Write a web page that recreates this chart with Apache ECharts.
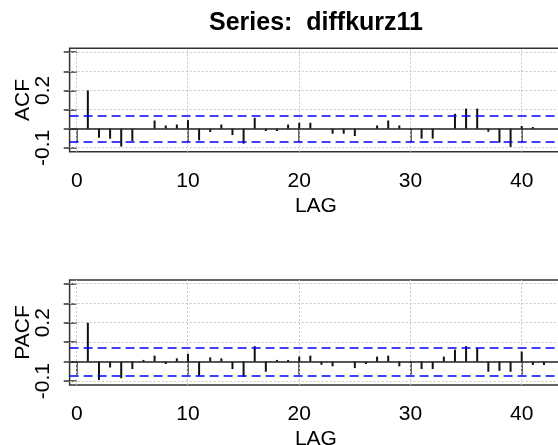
<!DOCTYPE html>
<html>
<head>
<meta charset="utf-8">
<script src="https://cdn.jsdelivr.net/npm/echarts@6/dist/echarts.min.js"></script>
<style>html,body{margin:0;padding:0;background:#fff}#c{width:558px;height:445px}</style>
</head>
<body>
<div id="c"></div>
<script>
var lags = [1,2,3,4,5,6,7,8,9,10,11,12,13,14,15,16,17,18,19,20,21,22,23,24,25,26,27,28,29,30,31,32,33,34,35,36,37,38,39,40,41,42];
var acfValues = [0.20,-0.047,-0.052,-0.093,-0.064,0.0,0.043,0.017,0.022,0.045,-0.061,-0.017,0.022,-0.033,-0.078,0.057,-0.012,-0.012,0.022,0.031,0.031,0.0,-0.026,-0.026,-0.038,0.0,0.017,0.043,0.017,-0.005,-0.052,-0.052,0.0,0.078,0.105,0.105,-0.016,-0.073,-0.095,0.014,0.009,0.0];
var pacfValues = [0.20,-0.094,-0.030,-0.085,-0.038,0.009,0.031,-0.012,0.017,0.040,-0.073,0.022,0.017,-0.038,-0.078,0.080,-0.052,0.009,0.009,0.026,0.031,-0.016,-0.024,0.0,-0.033,-0.012,0.026,0.031,-0.024,-0.007,-0.038,-0.038,0.026,0.062,0.080,0.071,-0.052,-0.047,-0.052,0.052,-0.017,-0.017];
var confBound = 0.065;
var xTicks = [0,10,20,30,40];
var xTickLabels = ['0','10','20','30','40'];
var yTicks = [-0.1,0,0.1,0.2,0.3,0.4];
var yTickLabels = [-0.1,0.2];
var titleText = 'Series:  diffkurz11';

var X_MIN = -0.64, X_MAX = 43.64, Y_MIN = -0.12, Y_MAX = 0.42;
var FONT = 'Liberation Sans, Arial, sans-serif';
var chart = echarts.init(document.getElementById('c'), null, {renderer:'canvas'});

function pairs(vals){ return lags.map(function(l,i){ return [l, vals[i]]; }); }
function snap(v){ return Math.round(v - 0.5) + 0.5; }

function xAx(idx){
  return {
    type:'value', gridIndex:idx, min:X_MIN, max:X_MAX,
    name:'LAG', nameLocation:'middle', nameGap:44, nameMoveOverlap:false,
    nameTextStyle:{fontFamily:FONT, fontSize:21, color:'#000'},
    axisLine:{show:false},
    axisTick:{show:true, length:13, customValues:xTicks, lineStyle:{color:'#333', width:1.5}},
    axisLabel:{customValues:xTicks, margin:19, fontFamily:FONT, fontSize:21, color:'#000',
      formatter:function(v){ var i = xTicks.indexOf(v); return i>=0 ? xTickLabels[i] : ''; }},
    splitLine:{show:false}
  };
}
function yAx(idx, name){
  return {
    type:'value', gridIndex:idx, min:Y_MIN, max:Y_MAX,
    name:name, nameLocation:'middle', nameRotate:90, nameGap:36, nameMoveOverlap:false,
    nameTextStyle:{fontFamily:FONT, fontSize:21, color:'#000'},
    axisLine:{show:false},
    axisTick:{show:true, length:13, customValues:yTicks, lineStyle:{color:'#333', width:1.5}},
    axisLabel:{customValues:yTickLabels, rotate:90, margin:16, fontFamily:FONT, fontSize:21, color:'#000',
      formatter:function(v){ return (Math.round(v*10)/10).toFixed(1); }},
    splitLine:{show:false}
  };
}
function seriesFor(idx, vals){
  return [
    {
      type:'custom', xAxisIndex:idx, yAxisIndex:idx, data:xTicks.map(function(v){return [v];}), z:1, silent:true,
      encode:{x:0}, clip:false,
      renderItem:function(params, api){
        var x = api.value(0);
        var p1 = api.coord([x, Y_MIN]), p2 = api.coord([x, Y_MAX]);
        var sx = snap(p1[0]);
        return {type:'line', shape:{x1:sx, y1:p1[1], x2:sx, y2:p2[1]},
          style:{stroke:'#c8c8c8', lineWidth:1, lineDash:[2,2]}};
      }
    },
    {
      type:'custom', xAxisIndex:idx, yAxisIndex:idx, data:yTicks.map(function(v){return [X_MIN, v];}), z:1, silent:true,
      encode:{x:0, y:1}, clip:false,
      renderItem:function(params, api){
        var y = api.value(1);
        var p1 = api.coord([X_MIN, y]), p2 = api.coord([X_MAX, y]);
        var sy = snap(p1[1]);
        return {type:'line', shape:{x1:p1[0], y1:sy, x2:p2[0], y2:sy},
          style:{stroke:'#c8c8c8', lineWidth:1, lineDash:[2,2]}};
      }
    },
    {
      type:'custom', xAxisIndex:idx, yAxisIndex:idx, data:pairs(vals), z:3, silent:true,
      encode:{x:0, y:1},
      renderItem:function(params, api){
        var p1 = api.coord([api.value(0), 0]), p2 = api.coord([api.value(0), api.value(1)]);
        return {type:'line', shape:{x1:p1[0], y1:p1[1], x2:p2[0], y2:p2[1]},
          style:{stroke:'#111', lineWidth:2}};
      },
      markLine:{silent:true, symbol:['none','none'], label:{show:false}, animation:false,
        data:[
          {yAxis:0, lineStyle:{color:'#222', type:'solid', width:1.5}},
          {yAxis:confBound, lineStyle:{color:'#0000ff', type:[9,5], width:1.5}},
          {yAxis:-confBound, lineStyle:{color:'#0000ff', type:[9,5], width:1.5}}
        ]}
    }
  ];
}

chart.setOption({
  animation:false,
  backgroundColor:'#fff',
  graphic:[{type:'text', x:316, y:23, style:{text:titleText, textAlign:'center', textVerticalAlign:'middle',
    font:'bold 25px '+FONT, fill:'#000'}}],
  grid:[
    {left:69.6, top:48.3, width:492.6, height:103.4, show:true, borderColor:'#333', borderWidth:1.5, backgroundColor:'transparent', outerBoundsMode:'none', containLabel:false},
    {left:69.6, top:280, width:492.6, height:105, show:true, borderColor:'#333', borderWidth:1.5, backgroundColor:'transparent', outerBoundsMode:'none', containLabel:false}
  ],
  xAxis:[xAx(0), xAx(1)],
  yAxis:[yAx(0,'ACF'), yAx(1,'PACF')],
  series:seriesFor(0, acfValues).concat(seriesFor(1, pacfValues))
});
</script>
</body>
</html>
